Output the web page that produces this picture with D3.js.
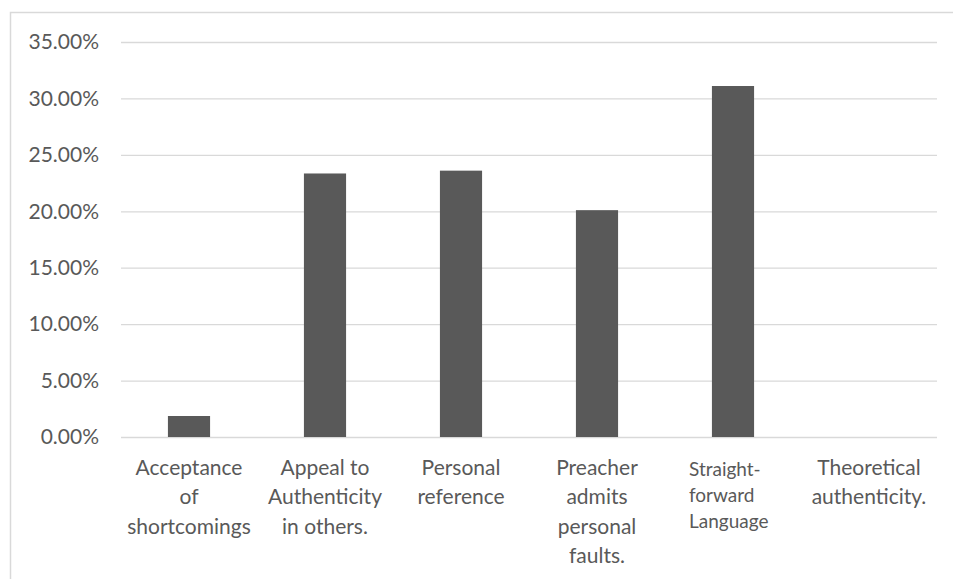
<!DOCTYPE html>
<html>
<head>
<meta charset="utf-8">
<script src="https://cdn.jsdelivr.net/npm/d3@7"></script>
<style>
  body { margin: 0; background: #fff; }
  svg { display: block; }
  text { font-family: Lato, "Open Sans", sans-serif; fill: #595959; }
</style>
</head>
<body>
<svg id="chart"></svg>
<script>
const categories = [
    "Acceptance of shortcomings",
    "Appeal to Authenticity in others.",
    "Personal reference",
    "Preacher admits personal faults.",
    "Straight-forward Language",
    "Theoretical authenticity."
]
// wrapped label lines, as in the picture
const labelLines = [
    ["Acceptance", "of", "shortcomings"],
    ["Appeal to", "Authenticity", "in others."],
    ["Personal", "reference"],
    ["Preacher", "admits", "personal", "faults."],
    ["Straight-", "forward", "Language"],
    ["Theoretical", "authenticity."]
]
const values = [0.0186, 0.2335, 0.236, 0.201, 0.311, 0]
const yTicks = [0, 0.05, 0.10, 0.15, 0.20, 0.25, 0.30, 0.35]

const w = 953
const h = 579
const margin = { top: 42, right: 16, bottom: 142, left: 121 }
const width = w - margin.left - margin.right
const height = h - margin.top - margin.bottom

const svg = d3.select("#chart")
    .attr("width", w)
    .attr("height", h)

// outer frame
svg.append("rect")
    .attr("x", 10.5)
    .attr("y", 12.5)
    .attr("width", w + 20)
    .attr("height", h + 20)
    .attr("fill", "none")
    .attr("stroke", "#d9d9d9")
    .attr("stroke-width", 1.5)

const chart = svg.append("g")
    .attr("transform", `translate(${margin.left}, ${margin.top})`)

const x = d3.scaleBand()
    .domain(categories)
    .range([0, width])
    .paddingInner(0.69)
    .paddingOuter(0.345)

const y = d3.scaleLinear()
    .domain([0, 0.35])
    .range([height, 0])

// gridlines + y labels
const yAxis = d3.axisLeft(y)
    .tickValues(yTicks)
    .tickSize(-width)
    .tickPadding(22)
    .tickFormat(d3.format(".2%"))

chart.append("g")
    .attr("class", "y axis")
    .call(yAxis)
    .call(g => g.select(".domain").remove())
    .call(g => g.selectAll("line").attr("stroke", "#d9d9d9").attr("stroke-width", 1.3))
    .call(g => g.selectAll("text")
        .style("font-size", "21px")
        .style("font-family", "Lato, sans-serif")
        .attr("fill", "#595959"))

chart.selectAll("rect.bar")
    .data(values)
    .enter()
    .append("rect")
    .attr("class", "bar")
    .attr("x", (d, i) => x(categories[i]))
    .attr("y", d => y(d))
    .attr("width", x.bandwidth())
    .attr("height", d => height - y(d))
    .attr("fill", "#595959")

// category labels
const band = width / categories.length
const labels = chart.append("g")
    .attr("transform", `translate(0, ${height})`)

labelLines.forEach((lines, i) => {
    // this one is left aligned and a bit smaller in the original
    const small = i === 4
    const cx = band * i + band / 2
    const lx = small ? cx - 44 : cx
    const t = labels.append("text")
        .attr("x", lx)
        .attr("y", small ? 39 : 38)
        .style("font-size", small ? "19px" : "21px")
        .style("text-anchor", small ? "start" : "middle")
    lines.forEach((line, j) => {
        t.append("tspan")
            .attr("x", lx)
            .attr("dy", j === 0 ? 0 : (small ? 26 : 29.3))
            .text(line)
    })
})
</script>
</body>
</html>
